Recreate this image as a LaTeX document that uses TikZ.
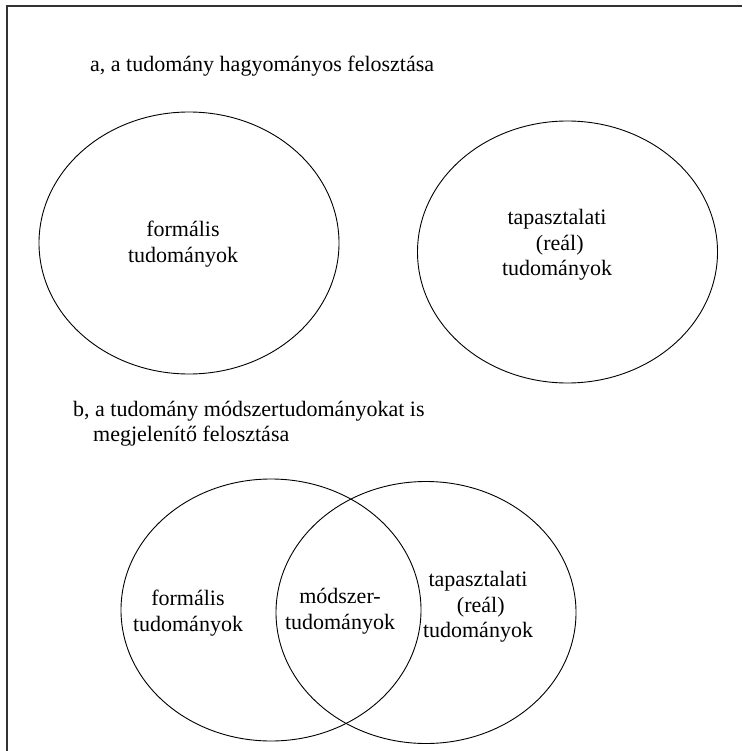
\documentclass[tikz,border=0pt]{standalone}
\usepackage{fontspec}
\setmainfont{Liberation Serif}
\usetikzlibrary{shapes.geometric}
\tikzset{
  venn/.style={ellipse, draw=black, line width=0.9pt, minimum width=300pt, minimum height=262pt, inner sep=0pt},
  lbl/.style={align=center, inner sep=0pt, font=\fontsize{22}{25.5}\selectfont},
  ttl/.style={align=left, inner sep=0pt, anchor=base west, font=\fontsize{22}{25}\selectfont},
  frameline/.style={draw=black!80, line width=1.4pt}
}
\begin{document}
\begin{tikzpicture}[x=1pt,y=-1pt]
\useasboundingbox (0,0) rectangle (742,751);
\coordinate (fr1) at (7,6);
\coordinate (fr0) at (7,751);
\coordinate (fr2) at (742,6);
\draw[frameline] (fr0) -- (fr1) -- (fr2);

\node[ttl] (ta) at (90,72) {a, a tudomány hagyományos felosztása};
\node[venn] (e1) at (189,243) {};
\node[venn] (e2) at (567.5,252) {};
\node[lbl] (l1) at (183,244) {formális\\tudományok};
\node[lbl] (l2) at (557,245) {tapasztalati\\\ (reál)\\tudományok};

\node[ttl] (tb) at (73,416) {b, a tudomány módszertudományokat is};
\node[ttl] (tb2) at (93,441) {megjelenítő felosztása};
\node[venn] (e3) at (271,610) {};
\node[venn] (e4) at (426,612.5) {};
\node[lbl] (l3) at (188,613) {formális\\tudományok};
\node[lbl] (l4) at (340,611) {módszer-\\tudományok};
\node[lbl] (l5) at (478,607) {tapasztalati\\\ (reál)\\tudományok};
\end{tikzpicture}
\end{document}
